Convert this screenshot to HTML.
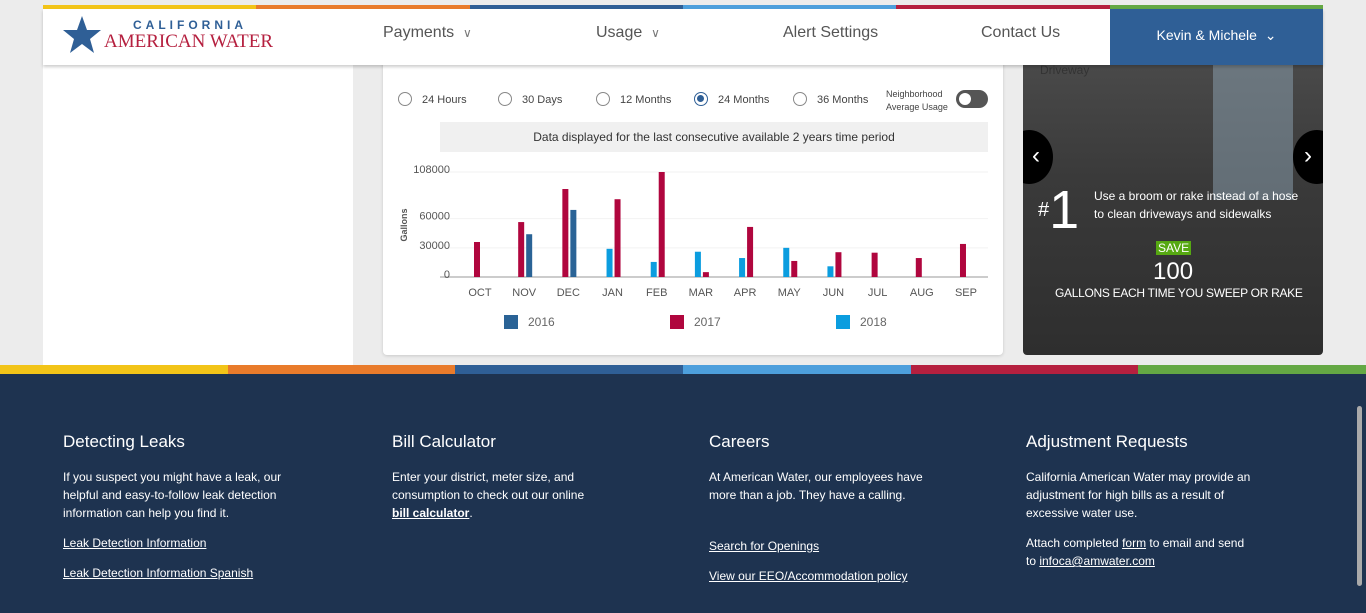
<!DOCTYPE html>
<html><head><meta charset="utf-8">
<style>
*{box-sizing:border-box;margin:0;padding:0}
body{width:1366px;height:613px;overflow:hidden;background:#ececec;font-family:"Liberation Sans",sans-serif;position:relative}
.abs{position:absolute}
.stripe{position:absolute;height:4px}
.nav{position:absolute;top:24px;font-size:16px;color:#555}
.nav span{font-size:12px;color:#777}
.radio{position:absolute;top:92px;width:14px;height:14px;border:1.5px solid #888;border-radius:50%}
.rlab{position:absolute;top:94px;font-size:11px;color:#444}
.foot h3{position:absolute;top:432px;color:#fff;font-size:17px;font-weight:normal}
.foot p{position:absolute;color:#fff;font-size:12px;line-height:18px}
.foot a{color:#fff;text-decoration:underline}
</style></head><body>
<div class="abs" style="left:43px;top:60px;width:310px;height:305px;background:#fff"></div>
<div class="abs" style="left:43px;top:9px;width:1280px;height:56px;background:#fff;box-shadow:0 2px 3px rgba(0,0,0,.2);z-index:2"></div>
<div class="stripe" style="left:43px;top:5px;width:213px;background:#f2c418"></div>
<div class="stripe" style="left:256px;top:5px;width:214px;background:#e97b2b"></div>
<div class="stripe" style="left:470px;top:5px;width:213px;background:#2f5f96"></div>
<div class="stripe" style="left:683px;top:5px;width:213px;background:#4d9fdc"></div>
<div class="stripe" style="left:896px;top:5px;width:214px;background:#b5203f"></div>
<div class="stripe" style="left:1110px;top:5px;width:213px;background:#64a844"></div>
<div style="position:absolute;left:0;top:0;z-index:3">
<svg class="abs" style="left:62px;top:15px" width="40" height="40" viewBox="0 0 40 40"><polygon points="20,1 25,15 39,15 28,24 32,38 20,29 8,38 12,24 1,15 15,15" fill="#2f5f96"/></svg>
<div class="abs" style="left:133px;top:18px;font-size:12px;letter-spacing:4px;color:#2f5f96;font-weight:bold;white-space:nowrap">CALIFORNIA</div>
<div class="abs" style="left:104px;top:31px;font-family:'Liberation Serif',serif;font-size:19px;color:#b5203f;white-space:nowrap">AMERICAN WATER</div>
<div class="nav" style="left:383px;white-space:nowrap">Payments &nbsp;<span>∨</span></div>
<div class="nav" style="left:596px;white-space:nowrap">Usage &nbsp;<span>∨</span></div>
<div class="nav" style="left:783px;white-space:nowrap">Alert Settings</div>
<div class="nav" style="left:981px;white-space:nowrap">Contact Us</div>
<div class="abs" style="left:1110px;top:9px;width:213px;height:56px;background:#2f5f96;color:#fff;font-size:14px;text-align:center;line-height:52px">Kevin &amp; Michele &nbsp;⌄</div>
</div>

<div class="abs" style="left:383px;top:60px;width:620px;height:295px;background:#fff;border-radius:4px;box-shadow:0 1px 3px rgba(0,0,0,.15)"></div>
<div class="radio" style="left:398px"></div><div class="rlab" style="left:422px">24 Hours</div>
<div class="radio" style="left:498px"></div><div class="rlab" style="left:522px">30 Days</div>
<div class="radio" style="left:596px"></div><div class="rlab" style="left:620px">12 Months</div>
<div class="radio" style="left:694px;border-color:#2f5f96"><div style="margin:2px;width:7px;height:7px;border-radius:50%;background:#2f5f96"></div></div><div class="rlab" style="left:718px">24 Months</div>
<div class="radio" style="left:793px"></div><div class="rlab" style="left:817px">36 Months</div>
<div class="abs" style="left:886px;top:88px;font-size:9px;color:#444;line-height:13px">Neighborhood<br>Average Usage</div>
<div class="abs" style="left:956px;top:90px;width:32px;height:18px;border-radius:9px;background:#555"><div style="margin:3px;width:12px;height:12px;border-radius:50%;background:#fff"></div></div>
<div class="abs" style="left:440px;top:122px;width:548px;height:30px;background:#f0f0f0;font-size:12px;color:#333;text-align:center;line-height:30px">Data displayed for the last consecutive available 2 years time period</div>

<svg class="abs" id="chart" style="left:383px;top:155px" width="620" height="190"></svg>

<div class="abs" style="left:1023px;top:60px;width:300px;height:295px;border-radius:0 0 4px 4px;background:linear-gradient(180deg,#4a4a4a 0%,#3a3a3a 40%,#2e2e2e 100%);overflow:hidden">
<div style="position:absolute;left:190px;top:0;width:80px;height:140px;background:#8ea3b3;opacity:.5"></div>
<div style="position:absolute;left:-18px;top:70px;width:48px;height:54px;border-radius:50%;background:#000;color:#fff;font-size:24px;line-height:52px;text-align:right;padding-right:13px">‹</div>
<div style="position:absolute;left:270px;top:70px;width:48px;height:54px;border-radius:50%;background:#000;color:#fff;font-size:24px;line-height:52px;padding-left:11px">›</div>
</div>
<div class="abs" style="left:1040px;top:63px;font-size:12px;color:#333">Driveway</div>
<div class="abs" style="left:1038px;top:180px;color:#fff;font-size:54px;line-height:60px"><span style="font-size:20px;vertical-align:top">#</span>1</div>
<div class="abs" style="left:1094px;top:187px;color:#fff;font-size:12px;line-height:18px;white-space:nowrap">Use a broom or rake instead of a hose<br>to clean driveways and sidewalks</div>
<div class="abs" style="left:1156px;top:241px;background:#56a812;color:#fff;font-size:12px;padding:0 2px">SAVE</div>
<div class="abs" style="left:1153px;top:258px;color:#fff;font-size:24px">100</div>
<div class="abs" style="left:1055px;top:286px;color:#fff;font-size:12px;letter-spacing:-0.3px;white-space:nowrap">GALLONS EACH TIME YOU SWEEP OR RAKE</div>

<div class="abs" style="left:0;top:365px;width:1366px;height:248px;background:#1e3350"></div>
<div class="stripe" style="left:0;top:365px;height:9px;width:228px;background:#f2c418"></div>
<div class="stripe" style="left:228px;top:365px;height:9px;width:227px;background:#e97b2b"></div>
<div class="stripe" style="left:455px;top:365px;height:9px;width:228px;background:#2f5f96"></div>
<div class="stripe" style="left:683px;top:365px;height:9px;width:228px;background:#4d9fdc"></div>
<div class="stripe" style="left:911px;top:365px;height:9px;width:227px;background:#b5203f"></div>
<div class="stripe" style="left:1138px;top:365px;height:9px;width:228px;background:#64a844"></div>
<div class="abs" style="left:1357px;top:406px;width:5px;height:180px;border-radius:3px;background:#aaa"></div>
<div class="foot">
<h3 style="left:63px">Detecting Leaks</h3>
<p style="left:63px;top:468px">If you suspect you might have a leak, our<br>helpful and easy-to-follow leak detection<br>information can help you find it.</p>
<p style="left:63px;top:534px"><a>Leak Detection Information</a></p>
<p style="left:63px;top:564px"><a>Leak Detection Information Spanish</a></p>
<h3 style="left:392px">Bill Calculator</h3>
<p style="left:392px;top:468px">Enter your district, meter size, and<br>consumption to check out our online<br><a style="font-weight:bold">bill calculator</a>.</p>
<h3 style="left:709px">Careers</h3>
<p style="left:709px;top:468px">At American Water, our employees have<br>more than a job. They have a calling.</p>
<p style="left:709px;top:537px"><a>Search for Openings</a></p>
<p style="left:709px;top:567px"><a>View our EEO/Accommodation policy</a></p>
<h3 style="left:1026px">Adjustment Requests</h3>
<p style="left:1026px;top:468px">California American Water may provide an<br>adjustment for high bills as a result of<br>excessive water use.</p>
<p style="left:1026px;top:534px">Attach completed <a>form</a> to email and send<br>to <a>infoca@amwater.com</a></p>
</div>

<script>
const months=["OCT","NOV","DEC","JAN","FEB","MAR","APR","MAY","JUN","JUL","AUG","SEP"];
const s2016=[null,44000,69000,null,null,null,null,null,null,null,null,null];
const s2017=[36000,56500,90500,80000,108000,5000,51500,16500,25500,25000,19500,34000];
const s2018=[null,null,null,29000,15500,26000,19500,30000,11000,null,null,null];
const yTicks=[0,30000,60000,108000];
const legendYears=["2016","2017","2018"];
const colors={"2016":"#2a6396","2017":"#b0063e","2018":"#0b9ddf"};
const svg=document.getElementById('chart');
const NS='http://www.w3.org/2000/svg';
const x0=97,step=44.18,base=122,plotTop=17,yMax=108000;
const X=i=>x0+i*step;
const Y=v=>base-(v/yMax)*(base-plotTop);
function mk(t,a){const e=document.createElementNS(NS,t);for(const k in a)e.setAttribute(k,a[k]);svg.appendChild(e);return e;}
yTicks.forEach(v=>{
  const g=mk('line',{x1:57,x2:605,y1:Y(v),y2:Y(v),stroke:v?'#f2f2f2':'#ccc','stroke-width':v?1:2});
  
  
  const t=mk('text',{x:67,y:Y(v)+1,'text-anchor':'end','font-size':11,fill:'#555','font-family':'Liberation Sans'});
  t.textContent=v;
  
  
});
const yt=mk('text',{transform:'translate(24,70) rotate(-90)','text-anchor':'middle','font-size':9,'font-weight':'bold',fill:'#555','font-family':'Liberation Sans'});
yt.textContent='Gallons';


const bw=6;
function bar(i,v,side,yr){
  if(v==null)return;
  const x=side<0?X(i)-bw:X(i)+2;
  const r=mk('rect',{x:x,y:Y(v),width:bw,height:base-Y(v),fill:colors[yr]});
  
  
}
months.forEach((m,i)=>{
  if(s2018[i]!=null){bar(i,s2018[i],-1,'2018');bar(i,s2017[i],1,'2017');}
  else if(s2016[i]!=null){bar(i,s2017[i],-1,'2017');bar(i,s2016[i],1,'2016');}
  else bar(i,s2017[i],-1,'2017');
  const t=mk('text',{x:X(i),y:141,'text-anchor':'middle','font-size':11,fill:'#555','font-family':'Liberation Sans'});
  t.textContent=m;
  
  
});
legendYears.forEach((yr,k)=>{
  const lx=121+k*166;
  const r=mk('rect',{x:lx,y:160,width:14,height:14,fill:colors[yr]});
  
  
  const t=mk('text',{x:lx+24,y:171,'font-size':12,fill:'#666','font-family':'Liberation Sans'});
  t.textContent=yr;
  
  
});
</script>
</body></html>
